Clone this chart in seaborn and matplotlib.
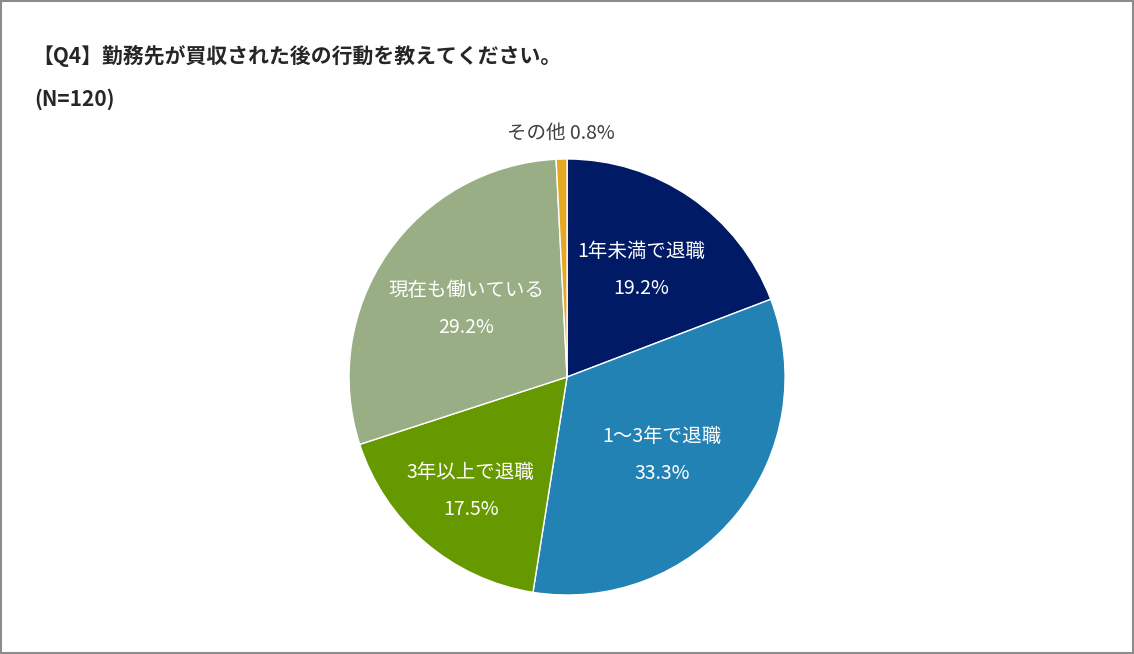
import matplotlib.pyplot as plt
import seaborn as sns
import numpy as np

categories = ["1年未満で退職", "1～3年で退職", "3年以上で退職", "現在も働いている", "その他"]
shares = [19.2, 33.3, 17.5, 29.2, 0.8]
colors = ["#001A66", "#2382B4", "#669900", "#9AAE86", "#E5A823"]
label_dist = [0.6, 0.56, 0.68, 0.56, 1.12]

sns.set_theme(style="white")
plt.rcParams["font.family"] = ["Noto Sans CJK JP", "DejaVu Sans"]

fig = plt.figure(figsize=(11.34, 6.54), dpi=100)
fig.patches.append(plt.Rectangle((0.001, 0.001), 0.998, 0.997, transform=fig.transFigure,
                                 fill=False, edgecolor="#8c8c8c", linewidth=1.5))

ax = fig.add_axes([0.3078, 0.0902, 0.3845, 0.6667])
wedges, _ = ax.pie(shares, colors=colors, startangle=90, counterclock=False,
                   wedgeprops=dict(edgecolor="white", linewidth=1))
ax.set_xlim(-1, 1)
ax.set_ylim(-1, 1)
ax.set_aspect("equal")

for w, cat, val, d in zip(wedges, categories, shares, label_dist):
    ang = np.deg2rad((w.theta1 + w.theta2) / 2)
    x, y = d * np.cos(ang), d * np.sin(ang)
    if cat == "その他":
        ax.text(x, y, f"{cat} {val}%", ha="center", va="center", fontsize=14, color="#404040")
    else:
        ax.text(x, y + 0.08, cat, ha="center", va="center", fontsize=14, color="white")
        ax.text(x, y - 0.09, f"{val}%", ha="center", va="center", fontsize=14, color="white")

fig.text(0.028, 0.915, "【Q4】勤務先が買収された後の行動を教えてください。", fontsize=15,
         fontweight="bold", ha="left", va="center")
fig.text(0.03, 0.848, "(N=120)", fontsize=15, fontweight="bold", ha="left", va="center")

fig.savefig("out.png", dpi=100)
